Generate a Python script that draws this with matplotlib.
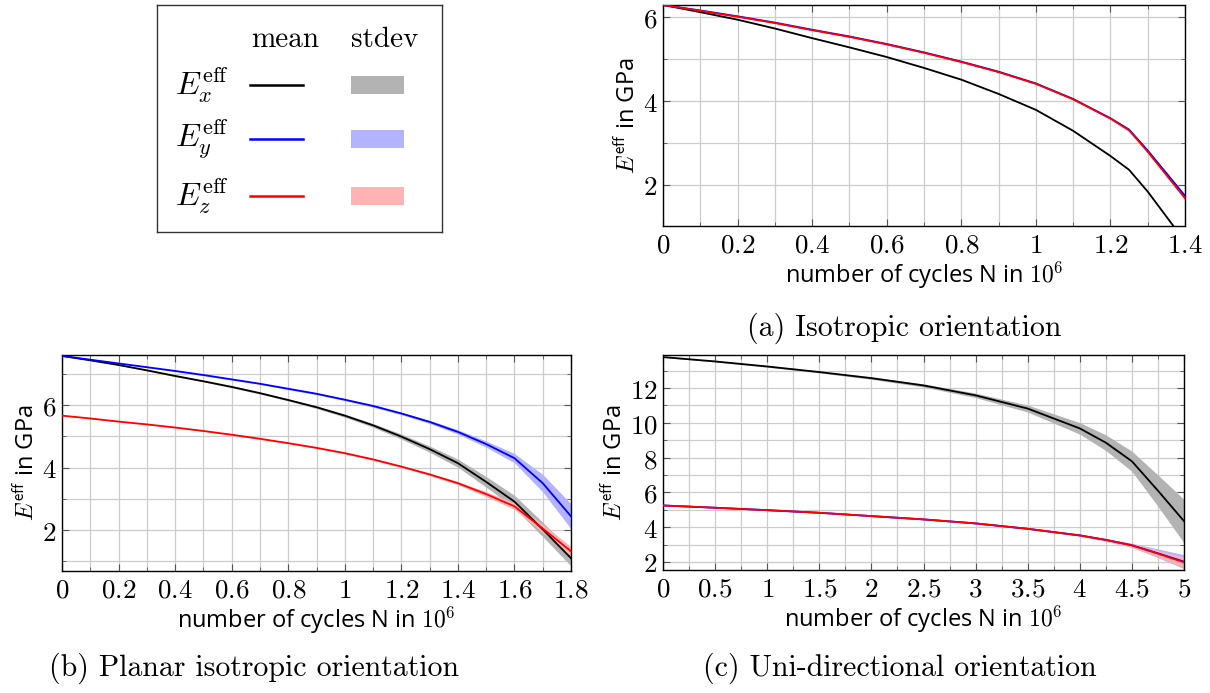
import matplotlib
matplotlib.use('Agg')
import matplotlib.pyplot as plt
from matplotlib.ticker import MultipleLocator, FuncFormatter
from matplotlib.patches import Rectangle

plt.rcParams['mathtext.fontset'] = 'cm'
plt.rcParams['font.family'] = ['Open Sans', 'DejaVu Sans']

# (a) isotropic orientation
n_a = [0, 0.1, 0.2, 0.3, 0.4, 0.5, 0.6, 0.7, 0.8, 0.9, 1.0, 1.1, 1.2, 1.25, 1.3, 1.4]
ex_a = [6.29, 6.12, 5.94, 5.73, 5.50, 5.28, 5.05, 4.79, 4.51, 4.17, 3.79, 3.29, 2.69, 2.36, 1.84, 0.65]
ey_a = [6.29, 6.16, 6.02, 5.87, 5.70, 5.54, 5.36, 5.16, 4.94, 4.70, 4.42, 4.05, 3.59, 3.32, 2.82, 1.74]
ez_a = [6.29, 6.15, 6.01, 5.86, 5.69, 5.53, 5.35, 5.15, 4.93, 4.69, 4.41, 4.04, 3.58, 3.30, 2.79, 1.68]
sx_a = [0.0, 0.01, 0.01, 0.01, 0.01, 0.01, 0.01, 0.01, 0.01, 0.01, 0.01, 0.01, 0.01, 0.01, 0.01, 0.01]
sy_a = [0.0, 0.01, 0.01, 0.01, 0.01, 0.01, 0.01, 0.01, 0.01, 0.01, 0.01, 0.01, 0.01, 0.01, 0.02, 0.02]
sz_a = [0.0, 0.01, 0.01, 0.01, 0.01, 0.01, 0.01, 0.01, 0.01, 0.01, 0.01, 0.01, 0.01, 0.01, 0.02, 0.02]

# (b) planar isotropic orientation
n_b = [0, 0.1, 0.2, 0.3, 0.4, 0.5, 0.6, 0.7, 0.8, 0.9, 1.0, 1.1, 1.2, 1.3, 1.4, 1.5, 1.6, 1.7, 1.8]
ex_b = [7.57, 7.43, 7.28, 7.11, 6.93, 6.76, 6.58, 6.38, 6.16, 5.93, 5.66, 5.35, 4.99, 4.59, 4.14, 3.54, 2.91, 2.02, 1.10]
ey_b = [7.57, 7.45, 7.33, 7.21, 7.09, 6.96, 6.82, 6.68, 6.52, 6.36, 6.17, 5.97, 5.73, 5.46, 5.14, 4.75, 4.30, 3.50, 2.44]
ez_b = [5.66, 5.57, 5.47, 5.38, 5.28, 5.17, 5.05, 4.92, 4.78, 4.63, 4.46, 4.26, 4.03, 3.78, 3.50, 3.15, 2.76, 2.05, 1.32]
sx_b = [0.0, 0.01, 0.01, 0.02, 0.02, 0.02, 0.03, 0.03, 0.03, 0.04, 0.05, 0.06, 0.08, 0.10, 0.13, 0.17, 0.20, 0.23, 0.25]
sy_b = [0.0, 0.01, 0.01, 0.01, 0.02, 0.02, 0.02, 0.02, 0.03, 0.03, 0.03, 0.04, 0.04, 0.05, 0.07, 0.10, 0.15, 0.28, 0.40]
sz_b = [0.0, 0.01, 0.01, 0.01, 0.01, 0.01, 0.02, 0.02, 0.02, 0.02, 0.03, 0.03, 0.03, 0.04, 0.05, 0.08, 0.10, 0.13, 0.15]

# (c) uni-directional orientation
n_c = [0, 0.5, 1.0, 1.5, 2.0, 2.5, 3.0, 3.5, 4.0, 4.25, 4.5, 4.75, 5.0]
ex_c = [13.78, 13.53, 13.24, 12.92, 12.57, 12.15, 11.58, 10.82, 9.68, 8.86, 7.79, 6.10, 4.35]
ey_c = [5.25, 5.12, 4.98, 4.83, 4.64, 4.45, 4.22, 3.91, 3.53, 3.27, 2.96, 2.50, 2.02]
ez_c = [5.25, 5.12, 4.98, 4.83, 4.64, 4.45, 4.22, 3.91, 3.53, 3.27, 2.96, 2.48, 1.98]
sx_c = [0.02, 0.03, 0.04, 0.05, 0.07, 0.09, 0.13, 0.20, 0.33, 0.45, 0.58, 0.90, 1.25]
sy_c = [0.02, 0.02, 0.02, 0.02, 0.03, 0.03, 0.03, 0.04, 0.05, 0.08, 0.12, 0.25, 0.40]
sz_c = [0.01, 0.01, 0.02, 0.02, 0.02, 0.02, 0.03, 0.03, 0.04, 0.06, 0.10, 0.18, 0.30]

colors = ['black', 'blue', 'red']
band_colors = ['#b3b3b3', '#b3b3ff', '#ffb3b3']
labels = [r'$E_x^{\mathrm{eff}}$', r'$E_y^{\mathrm{eff}}$', r'$E_z^{\mathrm{eff}}$']

tick_fmt = FuncFormatter(lambda v, p: r'$%g$' % round(v, 4))


def panel(rect, n, means, sds, xlim, ylim, xmaj, xmin, ymaj, ymin):
    ax = fig.add_axes(rect)
    for m, s, bc in zip(means, sds, band_colors):
        lo = [a - b for a, b in zip(m, s)]
        hi = [a + b for a, b in zip(m, s)]
        ax.fill_between(n, lo, hi, color=bc, lw=0, zorder=2)
    for m, c in zip(means, colors):
        ax.plot(n, m, color=c, lw=1.3, zorder=3)
    ax.set_xlim(xlim)
    ax.set_ylim(ylim)
    ax.xaxis.set_major_locator(MultipleLocator(xmaj))
    ax.xaxis.set_minor_locator(MultipleLocator(xmin))
    ax.yaxis.set_major_locator(MultipleLocator(ymaj))
    ax.yaxis.set_minor_locator(MultipleLocator(ymin))
    ax.xaxis.set_major_formatter(tick_fmt)
    ax.yaxis.set_major_formatter(tick_fmt)
    ax.grid(True, which='both', color='#cccccc', lw=0.9, zorder=1)
    ax.set_axisbelow(True)
    ax.tick_params(which='both', direction='in', top=True, right=True,
                   color='#555555', labelsize=19.5, pad=4)
    ax.tick_params(which='major', length=5)
    ax.tick_params(which='minor', length=3)
    for sp in ax.spines.values():
        sp.set_linewidth(1.0)
    ax.set_xlabel(r'number of cycles N in $10^6$', fontsize=17, labelpad=0)
    ax.set_ylabel(r'$E^{\mathsf{eff}}$ in GPa', fontsize=17, labelpad=1)
    return ax


fig = plt.figure(figsize=(12.1, 6.93), dpi=100)

panel([663 / 1210, 1 - 226 / 693, 522 / 1210, 221 / 693], n_a,
      [ex_a, ey_a, ez_a], [sx_a, sy_a, sz_a], (0, 1.4), (1.02, 6.29), 0.2, 0.1, 2, 1)
panel([62 / 1210, 1 - 571 / 693, 509 / 1210, 216 / 693], n_b,
      [ex_b, ey_b, ez_b], [sx_b, sy_b, sz_b], (0, 1.8), (0.69, 7.6), 0.2, 0.1, 2, 1)
panel([663 / 1210, 1 - 570 / 693, 521 / 1210, 215 / 693], n_c,
      [ex_c, ey_c, ez_c], [sx_c, sy_c, sz_c], (0, 5), (1.54, 13.9), 0.5, 0.25, 2, 1)

# legend table
lax = fig.add_axes([157 / 1210, 1 - 232 / 693, 285 / 1210, 227 / 693])
lax.set_xlim(0, 285)
lax.set_ylim(227, 0)
lax.set_xticks([])
lax.set_yticks([])
for sp in lax.spines.values():
    sp.set_linewidth(1.0)
    sp.set_color('#333333')
lax.text(128, 35, 'mean', family='cmr10', fontsize=21, ha='center', va='center')
lax.text(228, 35, 'stdev', family='cmr10', fontsize=21, ha='center', va='center')
rows_y = [80, 134, 191]
for yy, lab, c, bc in zip(rows_y, labels, colors, band_colors):
    lax.text(45, yy, lab, fontsize=23, ha='center', va='center')
    lax.plot([93, 146], [yy, yy], color=c, lw=1.8)
    lax.add_patch(Rectangle((194, yy - 9), 53, 18, color=bc, lw=0))

caps = ['(a) Isotropic orientation', '(b) Planar isotropic orientation',
        '(c) Uni-directional orientation']
cap_pos = [(904, 328), (254, 668), (900, 668)]
for t, (cx, cy) in zip(caps, cap_pos):
    fig.text(cx / 1210, 1 - cy / 693, t, family='cmr10', fontsize=21.5,
             ha='center', va='center')

fig.savefig('out.png', dpi=100)
